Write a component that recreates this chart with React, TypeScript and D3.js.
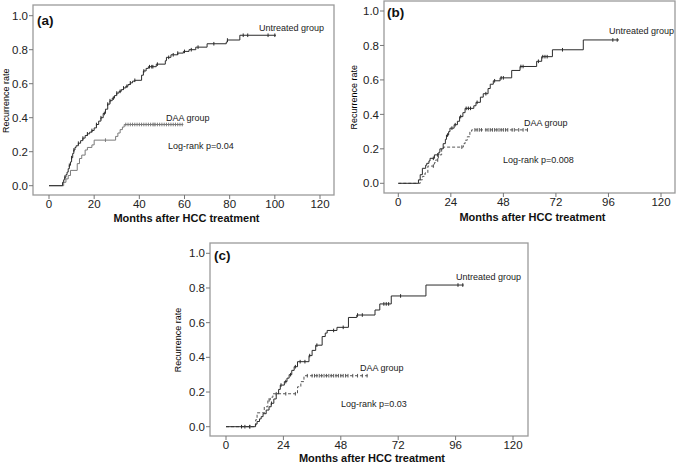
import React from 'react';
import * as d3 from 'd3';

type Pt = [number, number];

const xTicksA = [0, 20, 40, 60, 80, 100, 120];
const xTicksBC = [0, 24, 48, 72, 96, 120];
const yTicks = [0, 0.2, 0.4, 0.6, 0.8, 1.0];

// Panel (a)
const untreatedA: Pt[] = [[0,0],[6,0.02],[6.5,0.035],[7,0.05],[7.5,0.065],[8,0.08],[8.5,0.1],[9,0.12],[9.5,0.14],[10,0.165],[10.5,0.19],[11,0.21],[11.5,0.225],[12,0.235],[13,0.25],[14,0.265],[15,0.28],[16,0.295],[17,0.305],[18,0.315],[19,0.325],[20,0.34],[21,0.36],[22,0.38],[23,0.4],[24,0.425],[25,0.45],[26,0.48],[27,0.5],[28,0.515],[29,0.53],[30,0.545],[31,0.555],[32,0.565],[33,0.575],[34,0.585],[35,0.595],[36,0.605],[37,0.615],[38,0.62],[41,0.65],[41.8,0.675],[43,0.69],[44,0.7],[47.5,0.715],[51.5,0.735],[52,0.755],[54,0.77],[57,0.78],[59.5,0.79],[62,0.8],[65,0.815],[70,0.835],[78.5,0.845],[79,0.857],[84.5,0.885]];
const untreatedEndA = 100.5;
const untreatedCensA = [7,9,10,11,13,15,17,19,21,23,24.5,26,27,28.5,30,31.5,33,34.5,36,38,42,44.5,45.5,46,48,53,55,57,60,63,66,73,79,86,88,97,100];
const daaA: Pt[] = [[0,0],[6.5,0.02],[7.5,0.04],[8.5,0.06],[9.5,0.09],[12.5,0.13],[13.5,0.16],[14.5,0.18],[16,0.21],[17,0.225],[19,0.24],[20,0.268],[29.5,0.29],[30.5,0.31],[31.5,0.33],[32.5,0.345],[33.3,0.36]];
const daaEndA = 59.5;
const daaCensA = [25,34,35,36,37,38,39,40,41,42,43,44,45,46,46.5,47,48,49,50,51,52,53,54,55,56,57,58,59];

// Panel (b)
const untreatedB: Pt[] = [[0,0],[9.2,0.02],[10,0.05],[11,0.087],[12.5,0.105],[13,0.116],[14,0.13],[14.5,0.145],[16.5,0.165],[18.5,0.18],[19,0.2],[20.5,0.23],[21.5,0.255],[22,0.28],[23,0.3],[23.6,0.32],[25.5,0.34],[27,0.36],[28,0.387],[29.5,0.41],[30.5,0.435],[34.5,0.45],[35.5,0.47],[37.5,0.5],[38.8,0.52],[41,0.55],[42,0.575],[43.4,0.595],[46.5,0.612],[51.8,0.655],[55.6,0.678],[63.2,0.708],[65.5,0.735],[70.4,0.775],[84.5,0.832]];
const untreatedEndB = 100.8;
const untreatedCensB = [16,18,22.5,24.5,26,28.5,31,32,33,36,40,44,47,48,56,57,64,66,67,68,75,98,100];
const daaB: Pt[] = [[0,0],[10,0.02],[11,0.04],[12.2,0.06],[13.5,0.1],[16.5,0.12],[17,0.135],[18.3,0.165],[19.8,0.2],[20.6,0.21],[29.7,0.23],[30.5,0.25],[31.5,0.27],[32.7,0.3],[33.5,0.31]];
const daaEndB = 60;
const daaCensB = [16,18,29,35,36,37,38,40,41,42,43,44,45,46,47,48,49,50,52,53,55,57,59];

// Panel (c)
const untreatedC: Pt[] = [[0,0],[12.3,0.015],[13,0.03],[14,0.045],[14.7,0.058],[15.5,0.075],[16.8,0.096],[18,0.115],[18.9,0.135],[20,0.16],[21,0.19],[22,0.215],[22.7,0.24],[24.4,0.26],[25.5,0.28],[26.4,0.3],[27.5,0.325],[28.5,0.346],[29.9,0.375],[34.7,0.41],[36,0.44],[37.5,0.47],[40.2,0.52],[41.5,0.54],[42.3,0.555],[46.4,0.573],[51.2,0.63],[54.7,0.644],[62.3,0.673],[64.3,0.708],[69.1,0.754],[83.6,0.817]];
const untreatedEndC = 99.4;
const untreatedCensC = [6.5,7.9,9.9,19,23,25,27,29,31,33,35,38,45,49,55,57,66,67,68,73,97,99];
const daaC: Pt[] = [[0,0],[12.4,0.04],[13,0.08],[16,0.115],[17.5,0.154],[18.5,0.17],[19.6,0.19],[29.9,0.23],[31.3,0.26],[32.6,0.294]];
const daaEndC = 59.2;
const daaCensC = [10,18,21,25,29,34,36,37,38,39,40,41,42,43,44,45,46,47,48,49,50,51,53,55,57,59];

const FONT = '"Liberation Sans", Arial, sans-serif';

interface Layout {
  fx0: number; fx1: number; fy0: number; fy1: number;
  x0: number; x120: number; y0: number; y1: number;
  yTitleX: number; xTitleY: number;
  tag: string; tagX: number; tagY: number;
  untreatedX: number; untreatedY: number;
  daaX: number; daaY: number;
  pText: string; pX: number; pY: number;
}

function valueAt(data: Pt[], t: number) {
  let v = 0;
  for (const [tt, vv] of data) if (tt <= t) v = vv;
  return v;
}

function Panel(props: {
  L: Layout; xTicks: number[];
  untreated: Pt[]; uEnd: number; uCens: number[];
  daa: Pt[]; dEnd: number; dCens: number[]; dashed: boolean;
}) {
  const { L, xTicks, untreated, uEnd, uCens, daa, dEnd, dCens, dashed } = props;
  const x = d3.scaleLinear().domain([0, 120]).range([L.x0, L.x120]);
  const y = d3.scaleLinear().domain([0, 1]).range([L.y0, L.y1]);
  const line = d3.line<Pt>().x(d => x(d[0])).y(d => y(d[1])).curve(d3.curveStepAfter);
  const uPts: Pt[] = [...untreated, [uEnd, untreated[untreated.length - 1][1]]];
  const dPts: Pt[] = [...daa, [dEnd, daa[daa.length - 1][1]]];
  const uColor = '#2b2b2b';
  const dColor = dashed ? '#555' : '#7a7a7a';
  return (
    <g>
      <rect x={L.fx0} y={L.fy0} width={L.fx1 - L.fx0} height={L.fy1 - L.fy0}
        fill="none" stroke="#9a9a9a" strokeWidth={1.3} />
      {yTicks.map(t => (
        <g key={'y' + t}>
          <line x1={L.fx0 - 4} x2={L.fx0} y1={y(t)} y2={y(t)} stroke="#777" strokeWidth={1} />
          <text x={L.fx0 - 5} y={y(t)} dy="0.36em" textAnchor="end" fontSize={11.5} fill="#222" fontFamily={FONT}>{t.toFixed(1)}</text>
        </g>
      ))}
      {xTicks.map(t => (
        <g key={'x' + t}>
          <line x1={x(t)} x2={x(t)} y1={L.fy1} y2={L.fy1 + 4} stroke="#777" strokeWidth={1} />
          <text x={x(t)} y={L.fy1 + 13} textAnchor="middle" fontSize={11.5} fill="#222" fontFamily={FONT}>{t}</text>
        </g>
      ))}
      <text x={(L.fx0 + L.fx1) / 2 + 3} y={L.xTitleY} textAnchor="middle" fontSize={11} fontWeight="bold" fill="#111" fontFamily={FONT}>Months after HCC treatment</text>
      <text transform={`translate(${L.yTitleX},${(y(0) + y(1)) / 2}) rotate(-90)`} textAnchor="middle" fontSize={9} fill="#000" fontFamily={FONT}>Recurrence rate</text>
      <path d={line(dPts) || ''} fill="none" stroke={dColor} strokeWidth={1} strokeDasharray={dashed ? '3,2' : undefined} />
      <path d={line(uPts) || ''} fill="none" stroke={uColor} strokeWidth={1} />
      {dCens.map((t, i) => (
        <line key={'dc' + i} x1={x(t)} x2={x(t)} y1={y(valueAt(daa, t)) - 1.8} y2={y(valueAt(daa, t)) + 1.8} stroke={dColor} strokeWidth={1} />
      ))}
      {uCens.map((t, i) => (
        <line key={'uc' + i} x1={x(t)} x2={x(t)} y1={y(valueAt(untreated, t)) - 1.8} y2={y(valueAt(untreated, t)) + 1.8} stroke={uColor} strokeWidth={1} />
      ))}
      <text x={L.tagX} y={L.tagY} fontSize={13.5} fontWeight="bold" fill="#111" fontFamily={FONT}>{L.tag}</text>
      <text x={L.untreatedX} y={L.untreatedY} fontSize={9} fill="#222" fontFamily={FONT}>Untreated group</text>
      <text x={L.daaX} y={L.daaY} fontSize={9} fill="#222" fontFamily={FONT}>DAA group</text>
      <text x={L.pX} y={L.pY} fontSize={9} fill="#222" fontFamily={FONT}>{L.pText}</text>
    </g>
  );
}

const LA: Layout = {
  fx0: 33, fx1: 334, fy0: 5, fy1: 195, x0: 49, x120: 320, y0: 185.7, y1: 15.7,
  yTitleX: 8.5, xTitleY: 222, tag: '(a)', tagX: 37, tagY: 25,
  untreatedX: 259, untreatedY: 31, daaX: 166, daaY: 121, pText: 'Log-rank p=0.04', pX: 168, pY: 149,
};
const LB: Layout = {
  fx0: 384, fx1: 675, fy0: 1, fy1: 193, x0: 398.3, x120: 661, y0: 183.3, y1: 11,
  yTitleX: 357, xTitleY: 221, tag: '(b)', tagX: 387, tagY: 17,
  untreatedX: 609, untreatedY: 34, daaX: 524, daaY: 126, pText: 'Log-rank p=0.008', pX: 503, pY: 163,
};
const LC: Layout = {
  fx0: 210, fx1: 528, fy0: 243, fy1: 436, x0: 226, x120: 513, y0: 426.7, y1: 253.3,
  yTitleX: 181, xTitleY: 462, tag: '(c)', tagX: 214, tagY: 260,
  untreatedX: 456, untreatedY: 280, daaX: 360, daaY: 371, pText: 'Log-rank p=0.03', pX: 341, pY: 407,
};

export default function App() {
  return (
    <svg width={676} height={463} style={{ position: 'absolute', left: 0, top: 0, background: '#fff' }}>
      <rect x={0} y={0} width={676} height={463} fill="#fff" />
      <Panel L={LA} xTicks={xTicksA} untreated={untreatedA} uEnd={untreatedEndA} uCens={untreatedCensA} daa={daaA} dEnd={daaEndA} dCens={daaCensA} dashed={false} />
      <Panel L={LB} xTicks={xTicksBC} untreated={untreatedB} uEnd={untreatedEndB} uCens={untreatedCensB} daa={daaB} dEnd={daaEndB} dCens={daaCensB} dashed={true} />
      <Panel L={LC} xTicks={xTicksBC} untreated={untreatedC} uEnd={untreatedEndC} uCens={untreatedCensC} daa={daaC} dEnd={daaEndC} dCens={daaCensC} dashed={true} />
    </svg>
  );
}
